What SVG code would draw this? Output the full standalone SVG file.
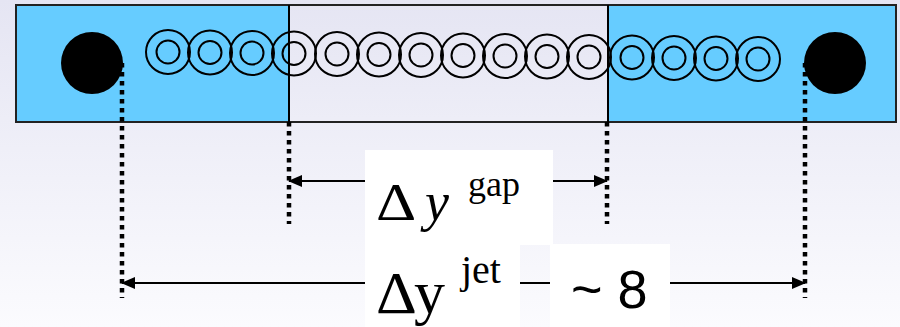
<svg xmlns="http://www.w3.org/2000/svg" width="900" height="327" viewBox="0 0 900 327">
<defs>
<linearGradient id="bg" x1="0" y1="0" x2="0" y2="1">
<stop offset="0" stop-color="#e5e5f3"/>
<stop offset="1" stop-color="#fbfbfe"/>
</linearGradient>
<marker id="ah" viewBox="0 0 14 12" refX="13" refY="6" markerWidth="14" markerHeight="12" markerUnits="userSpaceOnUse" orient="auto-start-reverse">
<path d="M0,0 L14,6 L0,12 Z" fill="#000"/>
</marker>
<style>
.ring{fill:none;stroke:#000;stroke-width:2}
.dot{stroke:#000;stroke-width:4.5;stroke-dasharray:4.5 4.5;fill:none}
.arr{stroke:#000;stroke-width:2;fill:none}
.box{fill:#fff}
.serif{font-family:"Liberation Serif","Times New Roman",serif;fill:#000}
.sans{font-family:"Liberation Sans",Arial,sans-serif;fill:#000}
</style>
</defs>
<rect x="0" y="0" width="900" height="327" fill="url(#bg)"/>
<g id="bar">
<rect x="16" y="5" width="273" height="117" fill="#66ccff"/>
<rect x="608" y="5" width="288" height="117" fill="#66ccff"/>
<rect x="16" y="5" width="880" height="117" fill="none" stroke="#222" stroke-width="2"/>
<line x1="289" y1="5" x2="289" y2="122" stroke="#000" stroke-width="2"/>
<line x1="608" y1="5" x2="608" y2="122" stroke="#000" stroke-width="2"/>
</g>
<g id="jet-left"><circle cx="92" cy="63" r="31" fill="#000"/></g>
<g id="jet-right"><circle cx="835" cy="63" r="31" fill="#000"/></g>
<g id="rings">
<g><circle class="ring" cx="168" cy="52" r="22"/><circle class="ring" cx="168" cy="52" r="11.5"/></g>
<g><circle class="ring" cx="210" cy="52.5" r="22"/><circle class="ring" cx="210" cy="52.5" r="11.5"/></g>
<g><circle class="ring" cx="252" cy="53" r="22"/><circle class="ring" cx="252" cy="53" r="11.5"/></g>
<g><circle class="ring" cx="294" cy="53.5" r="22"/><circle class="ring" cx="294" cy="53.5" r="11.5"/></g>
<g><circle class="ring" cx="337" cy="54" r="22"/><circle class="ring" cx="337" cy="54" r="11.5"/></g>
<g><circle class="ring" cx="379" cy="54.5" r="22"/><circle class="ring" cx="379" cy="54.5" r="11.5"/></g>
<g><circle class="ring" cx="421" cy="55" r="22"/><circle class="ring" cx="421" cy="55" r="11.5"/></g>
<g><circle class="ring" cx="463" cy="55.5" r="22"/><circle class="ring" cx="463" cy="55.5" r="11.5"/></g>
<g><circle class="ring" cx="505" cy="56" r="22"/><circle class="ring" cx="505" cy="56" r="11.5"/></g>
<g><circle class="ring" cx="547" cy="56.5" r="22"/><circle class="ring" cx="547" cy="56.5" r="11.5"/></g>
<g><circle class="ring" cx="589" cy="57" r="22"/><circle class="ring" cx="589" cy="57" r="11.5"/></g>
<g><circle class="ring" cx="632" cy="57.5" r="22"/><circle class="ring" cx="632" cy="57.5" r="11.5"/></g>
<g><circle class="ring" cx="674" cy="58" r="22"/><circle class="ring" cx="674" cy="58" r="11.5"/></g>
<g><circle class="ring" cx="716" cy="58.5" r="22"/><circle class="ring" cx="716" cy="58.5" r="11.5"/></g>
<g><circle class="ring" cx="758" cy="59" r="22"/><circle class="ring" cx="758" cy="59" r="11.5"/></g>
</g>
<g id="connectors">
<line class="dot" x1="122" y1="63" x2="122" y2="298"/>
<line class="dot" x1="805" y1="63" x2="805" y2="298"/>
<line class="dot" x1="289" y1="122" x2="289" y2="224"/>
<line class="dot" x1="607" y1="122" x2="607" y2="224"/>
<line class="arr" x1="289" y1="181" x2="607" y2="181" marker-start="url(#ah)" marker-end="url(#ah)"/>
<line class="arr" x1="122" y1="283" x2="805" y2="283" marker-start="url(#ah)" marker-end="url(#ah)"/>
</g>
<g id="label-gap">
<rect class="box" x="365" y="150" width="188" height="95"/>
<text class="serif" font-size="53" transform="translate(376,220) scale(1.18,1)">Δ</text>
<text class="serif" x="425" y="220" font-size="54" font-style="italic">y</text>
<text class="serif" x="468" y="196" font-size="36">gap</text>
</g>
<g id="label-jet">
<rect class="box" x="365" y="245" width="155" height="82"/>
<text class="serif" font-size="60" transform="translate(376,313) scale(1.06,1)">Δ</text>
<text class="serif" x="414" y="313" font-size="62">y</text>
<text class="serif" x="461" y="283" font-size="40">jet</text>
</g>
<g id="label-ratio">
<rect class="box" x="550" y="244" width="120" height="83"/>
<text class="sans" x="571" y="308" font-size="54">~ 8</text>
</g>
</svg>
